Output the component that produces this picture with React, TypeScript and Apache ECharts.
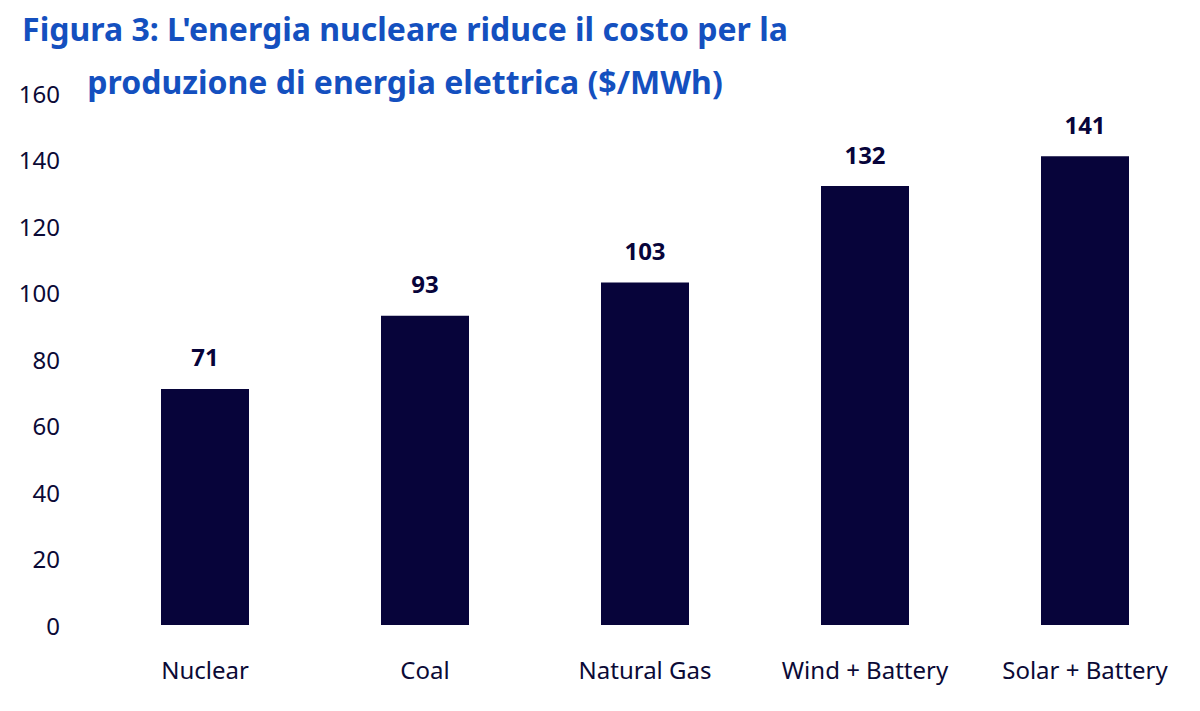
import * as echarts from "echarts";
import { useEffect, useRef } from "react";

const categories = ["Nuclear", "Coal", "Natural Gas", "Wind + Battery", "Solar + Battery"];
const values = [71, 93, 103, 132, 141];
const titleLines = [
    "Figura 3: L'energia nucleare riduce il costo per la",
    "produzione di energia elettrica ($/MWh)"
];

export default function App() {
    const chartRef = useRef<HTMLDivElement>(null);

    useEffect(() => {
        if (!chartRef.current) return;
        document.body.style.margin = "0";
        const chart = echarts.init(chartRef.current, null, { renderer: "svg" });
        const font = "'Noto Sans', sans-serif";

        chart.setOption({
            animation: false,
            backgroundColor: "#ffffff",
            graphic: titleLines.map((line, i) => ({
                type: "text",
                x: 405,
                y: 12 + i * 53,
                z: 10,
                style: {
                    text: line,
                    fontFamily: font,
                    fontSize: 32,
                    fontWeight: "bold",
                    fill: "#1450bf",
                    textAlign: "center",
                    backgroundColor: "#ffffff"
                }
            })),
            grid: { left: 95, right: 5, top: 93, bottom: 86 },
            xAxis: {
                type: "category",
                data: categories,
                axisLine: { show: false },
                axisTick: { show: false },
                axisLabel: { fontFamily: font, fontSize: 24, color: "#0b0a36", margin: 32, interval: 0 }
            },
            yAxis: {
                type: "value",
                min: 0,
                max: 160,
                interval: 20,
                splitLine: { show: false },
                axisLabel: { fontFamily: font, fontSize: 24, color: "#0b0a36", margin: 35 }
            },
            series: [
                {
                    type: "bar",
                    data: values,
                    barWidth: 88,
                    itemStyle: { color: "#07043a" },
                    label: {
                        show: true,
                        position: "top",
                        distance: 20,
                        fontFamily: font,
                        fontSize: 24,
                        fontWeight: "bold",
                        color: "#07043a"
                    }
                }
            ]
        });

        return () => chart.dispose();
    }, []);

    return <div ref={chartRef} style={{ width: 1200, height: 711 }} />;
}
